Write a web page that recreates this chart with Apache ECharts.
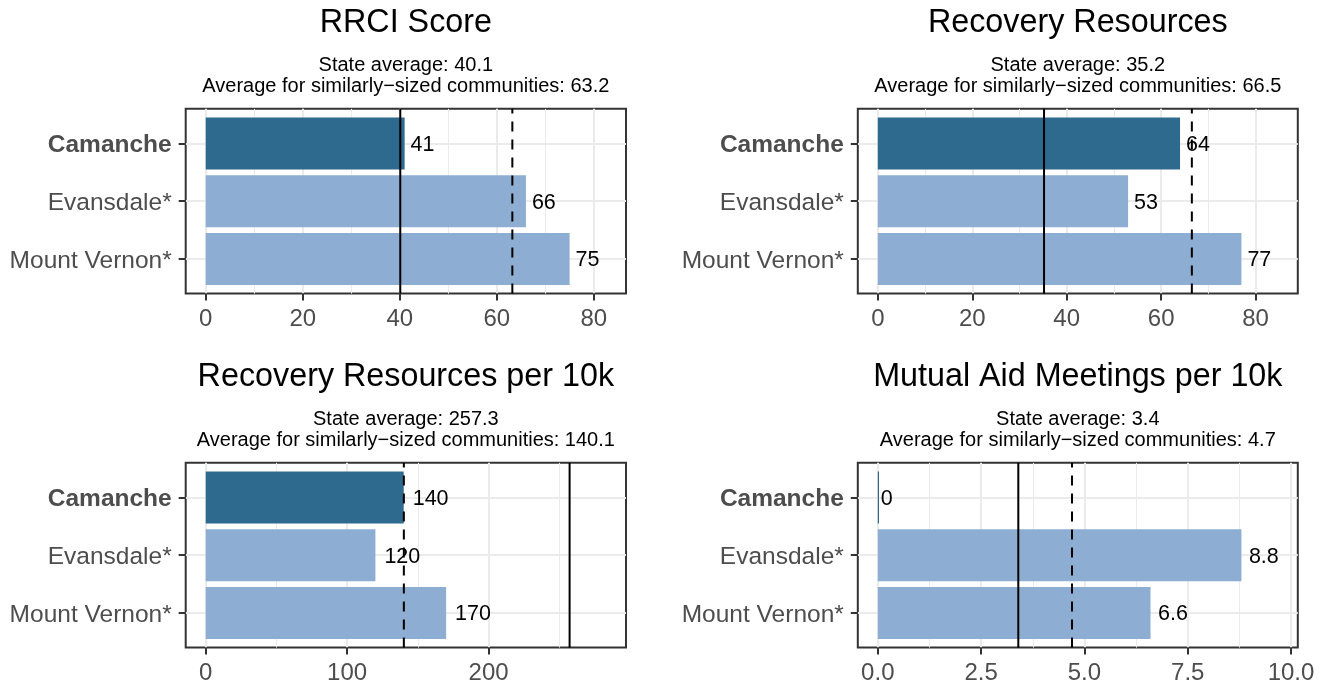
<!DOCTYPE html>
<html>
<head>
<meta charset="utf-8">
<script src="https://cdn.jsdelivr.net/npm/echarts@6/dist/echarts.min.js"></script>
<style>
html,body{margin:0;padding:0;background:#ffffff;}
#chart{width:1328px;height:683px;}
</style>
</head>
<body>
<div id="chart"></div>
<script>
// ---------------- data ----------------
const categories = ['Camanche', 'Evansdale*', 'Mount Vernon*'];
const focusCommunity = 'Camanche';
const panelTitles = ['RRCI Score', 'Recovery Resources', 'Recovery Resources per 10k', 'Mutual Aid Meetings per 10k'];
const rrciValues = [41, 66, 75];
const resourcesValues = [64, 53, 77];
const resourcesPer10kValues = [140, 120, 170];
const meetingsPer10kValues = [0, 8.8, 6.6];
const stateAverages = [40.1, 35.2, 257.3, 3.4];
const peerAverages = [63.2, 66.5, 140.1, 4.7];
const majorTicks = [[0, 20, 40, 60, 80], [0, 20, 40, 60, 80], [0, 100, 200], [0, 2.5, 5, 7.5, 10]];
const minorTicks = [[10, 30, 50, 70], [10, 30, 50, 70], [50, 150, 250], [1.25, 3.75, 6.25, 8.75]];
const tickLabels = [['0', '20', '40', '60', '80'], ['0', '20', '40', '60', '80'], ['0', '100', '200'], ['0.0', '2.5', '5.0', '7.5', '10.0']];
const panelValues = [rrciValues, resourcesValues, resourcesPer10kValues, meetingsPer10kValues];

// ---------------- style / layout ----------------
const FONT = '"Liberation Sans", Arial, Helvetica, sans-serif';
const DARK = '#2E6A8E';
const LIGHT = '#8DAED2';
const colLeft = [185.7, 857.8];
const colWidth = [440.3, 440];
const rowTop = [108.8, 462.8];
const rowHeight = 184.8;
const titleTop = [7.5, 361.5];
const subTop = [55.5, 409.5];

const measureCtx = document.createElement('canvas').getContext('2d');
function textWidth(t, size) {
  measureCtx.font = size + 'px ' + FONT;
  return measureCtx.measureText(t).width;
}

function axisLimits(i) {
  const m = Math.max.apply(null, panelValues[i].concat([stateAverages[i], peerAverages[i]]));
  const L = 1.1 * m;
  return [-0.05 * L, 1.05 * L];
}

const grids = [], xAxes = [], yAxes = [], series = [], titles = [];

for (let i = 0; i < 4; i++) {
  const c = i % 2, r = Math.floor(i / 2);
  const lim = axisLimits(i);
  const cx = colLeft[c] + colWidth[c] / 2;
  grids.push({
    left: colLeft[c], top: rowTop[r], width: colWidth[c], height: rowHeight,
    containLabel: false, outerBoundsMode: 'none',
    show: true, borderColor: '#333333', borderWidth: 2, backgroundColor: '#ffffff'
  });
  // major x axis (labels, ticks, major grid)
  xAxes.push({
    type: 'value', gridIndex: i, min: lim[0], max: lim[1], position: 'bottom',
    axisLine: { show: false, onZero: false },
    axisTick: { show: true, customValues: majorTicks[i], length: 7, lineStyle: { color: '#333333', width: 2 } },
    axisLabel: {
      show: true, customValues: majorTicks[i], margin: 14, color: '#4d4d4d', fontSize: 24, fontFamily: FONT,
      hideOverlap: false,
      formatter: (function (idx) { return function (v) { const k = majorTicks[idx].indexOf(v); return k >= 0 ? tickLabels[idx][k] : ''; }; })(i)
    },
    splitLine: { show: true, lineStyle: { color: '#ebebeb', width: 2 } }
  });
  titles.push({
    text: panelTitles[i], left: cx, top: titleTop[r], textAlign: 'center', textVerticalAlign: 'top', padding: 0,
    textStyle: { fontSize: 32.3, fontWeight: 'normal', color: '#000000', fontFamily: FONT }
  });
  titles.push({
    text: 'State average: ' + stateAverages[i].toFixed(1) + '\nAverage for similarly\u2212sized communities: ' + peerAverages[i].toFixed(1),
    left: cx, top: subTop[r], textAlign: 'center', textVerticalAlign: 'top', padding: 0,
    textStyle: { fontSize: 20, lineHeight: 20.5, fontWeight: 'normal', color: '#000000', fontFamily: FONT }
  });
}
for (let i = 0; i < 4; i++) {
  const lim = axisLimits(i);
  // minor x axis (minor grid only)
  xAxes.push({
    type: 'value', gridIndex: i, min: lim[0], max: lim[1], position: 'top',
    axisLine: { show: false, onZero: false },
    axisTick: { show: false, customValues: minorTicks[i] },
    axisLabel: { show: false, customValues: minorTicks[i] },
    splitLine: { show: true, lineStyle: { color: '#ebebeb', width: 1 } }
  });
  yAxes.push({
    type: 'value', gridIndex: i, min: -0.6, max: categories.length - 0.4, inverse: true, position: 'left',
    axisLine: { show: false, onZero: false },
    axisTick: { show: true, customValues: categories.map((_, k) => k), length: 7, lineStyle: { color: '#333333', width: 2 } },
    axisLabel: {
      show: true, customValues: categories.map((_, k) => k), margin: 14, color: '#4d4d4d', fontSize: 24.5, fontFamily: FONT,
      hideOverlap: false, padding: [4, 0, 0, 0],
      formatter: function (v) { const n = categories[v]; return n === focusCommunity ? '{b|' + n + '}' : n; },
      rich: { b: { fontWeight: 'bold', fontSize: 24.5, color: '#4d4d4d', fontFamily: FONT } }
    },
    splitLine: { show: true, lineStyle: { color: '#ebebeb', width: 2 } }
  });

  // bars + value labels
  series.push({
    type: 'custom', xAxisIndex: i, yAxisIndex: i, z: 2, clip: false, silent: true,
    encode: { x: 1, y: 0 },
    data: panelValues[i].map((v, k) => [k, v]),
    renderItem: function (params, api) {
      const k = api.value(0), v = api.value(1);
      const p0 = api.coord([0, k]);
      const p1 = api.coord([v, k]);
      const h = api.size([0, 0.9])[1];
      const label = String(panelValues[i][k]);
      const w = textWidth(label, 21.5);
      return {
        type: 'group',
        children: [
          { type: 'rect', shape: { x: p0[0], y: p0[1] - h / 2, width: Math.max(p1[0] - p0[0], 1.2), height: h },
            style: { fill: categories[k] === focusCommunity ? DARK : LIGHT } },
          { type: 'text', style: { text: label, x: p1[0] + 0.25 * w, y: p1[1] + 1.5, align: 'left', verticalAlign: 'middle',
              fontSize: 21.5, fontFamily: FONT, fill: '#000000' } }
        ]
      };
    }
  });
  // reference lines: state average (solid), similar communities (dashed)
  series.push({
    type: 'custom', xAxisIndex: i, yAxisIndex: i, z: 5, clip: false, silent: true,
    encode: { x: 0, y: 1 },
    data: [[stateAverages[i], 0], [peerAverages[i], 1]],
    renderItem: function (params, api) {
      const x = api.value(0), kind = api.value(1);
      const yb = api.coord([x, categories.length - 0.4]);
      const yt = api.coord([x, -0.6]);
      return {
        type: 'line',
        shape: { x1: yb[0], y1: yb[1], x2: yt[0], y2: yt[1] },
        style: { stroke: '#000000', lineWidth: 2, lineDash: kind === 1 ? [10, 8] : null }
      };
    }
  });
}

const chart = echarts.init(document.getElementById('chart'), null, { renderer: 'canvas' });
chart.setOption({
  animation: false,
  backgroundColor: '#ffffff',
  title: titles,
  grid: grids,
  xAxis: xAxes,
  yAxis: yAxes,
  series: series
});
</script>
</body>
</html>
